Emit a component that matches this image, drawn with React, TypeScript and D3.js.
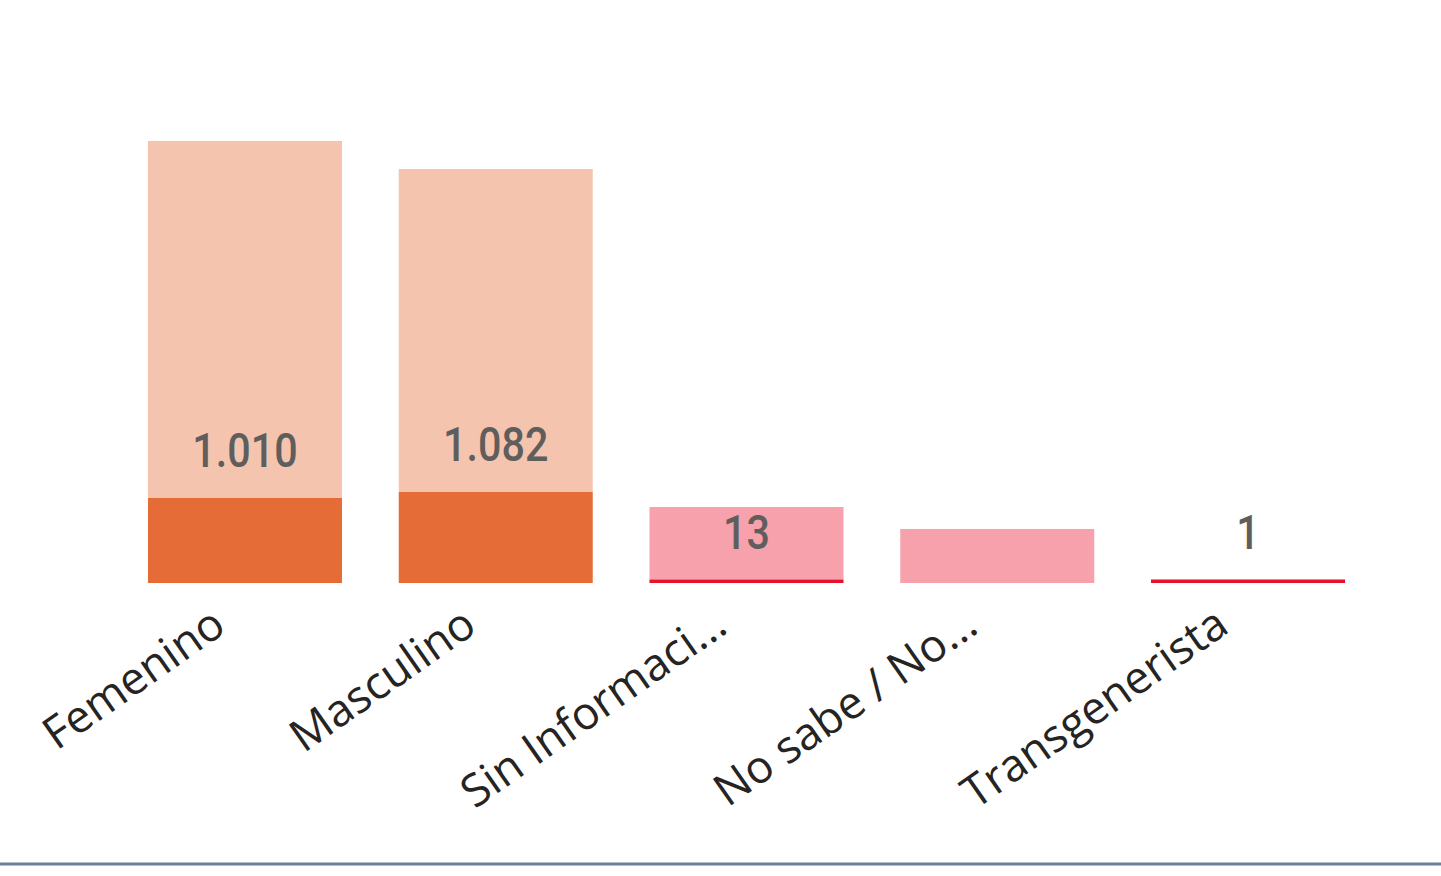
import React, { useEffect, useRef } from 'react';
import * as d3 from 'd3';

// categorias del eje X (ya recortadas como en el informe)
const categories = ['Femenino', 'Masculino', 'Sin Informaci...', 'No sabe / No...', 'Transgenerista'];
// serie inferior (con etiqueta de datos)
const casosValues: (number | null)[] = [1010, 1082, 13, null, 1];
// serie superior apilada (sin etiqueta)
const restoValues = [4242, 3837, 890, 642, 0];

const baseColors = ['#E56C37', '#E56C37', '#E8112D', '#E8112D', '#E8112D'];
const topColors = ['#F4C4AF', '#F4C4AF', '#F6A1AC', '#F6A1AC', '#F6A1AC'];

const W = 1441;
const H = 876;

const App = () => {
    const chartRef = useRef<HTMLDivElement>(null);

    useEffect(() => {
        document.body.style.margin = '0';
        d3.select(chartRef.current).selectAll('*').remove();

        const svg = d3
            .select(chartRef.current)
            .append('svg')
            .attr('width', W)
            .attr('height', H)
            .style('display', 'block')
            .style('background', '#fff');

        const x = d3
            .scaleBand<string>()
            .domain(categories)
            .range([119.6, 1373.4])
            .paddingInner(0.2263)
            .paddingOuter(0.1131);

        const y = d3.scaleLinear().domain([0, 6000]).range([583, 78]);

        const minH = 3.5;
        const rows = categories.map((c, i) => {
            const v = casosValues[i] ?? 0;
            let baseTop = y(v);
            if (v > 0 && y(0) - baseTop < minH) baseTop = y(0) - minH;
            const topTop = y(v + restoValues[i]);
            return { c, i, v, label: casosValues[i], baseTop, topTop };
        });

        // segmento superior
        svg
            .append('g')
            .selectAll('rect')
            .data(rows.filter((d) => restoValues[d.i] > 0))
            .join('rect')
            .attr('x', (d) => x(d.c)!)
            .attr('width', x.bandwidth())
            .attr('y', (d) => Math.min(d.topTop, d.baseTop))
            .attr('height', (d) => Math.max(0, d.baseTop - d.topTop))
            .attr('fill', (d) => topColors[d.i]);

        // segmento inferior
        svg
            .append('g')
            .selectAll('rect')
            .data(rows.filter((d) => d.v > 0))
            .join('rect')
            .attr('x', (d) => x(d.c)!)
            .attr('width', x.bandwidth())
            .attr('y', (d) => d.baseTop)
            .attr('height', (d) => y(0) - d.baseTop)
            .attr('fill', (d) => baseColors[d.i]);

        // etiquetas de datos (estrechadas para parecerse a DIN)
        svg
            .append('g')
            .selectAll('text')
            .data(rows.filter((d) => d.label != null))
            .join('text')
            .attr('transform', (d) => `translate(${x(d.c)! + x.bandwidth() / 2},${d.baseTop - 31}) scale(0.86,1)`)
            .attr('text-anchor', 'middle')
            .style('font-family', 'Roboto, "Open Sans", sans-serif')
            .style('font-size', '48px')
            .style('font-weight', 500)
            .style('fill', '#605E5C')
            .text((d) => d3.format(',')(d.label as number).replace(/,/g, '.'));

        // eje X rotado
        svg
            .append('g')
            .selectAll('text')
            .data(categories)
            .join('text')
            .attr('transform', (d) => `translate(${x(d)! + x.bandwidth() / 2 - 17},631) rotate(-35)`)
            .attr('text-anchor', 'end')
            .style('font-family', '"Open Sans", "Noto Sans", sans-serif')
            .style('font-size', '45px')
            .style('fill', '#252423')
            .text((d) => d);

        // linea inferior
        svg
            .append('line')
            .attr('x1', 0)
            .attr('x2', W)
            .attr('y1', 864)
            .attr('y2', 864)
            .attr('stroke', '#6C7E99')
            .attr('stroke-width', 3);
    }, []);

    return <div ref={chartRef}></div>;
};

export default App;
